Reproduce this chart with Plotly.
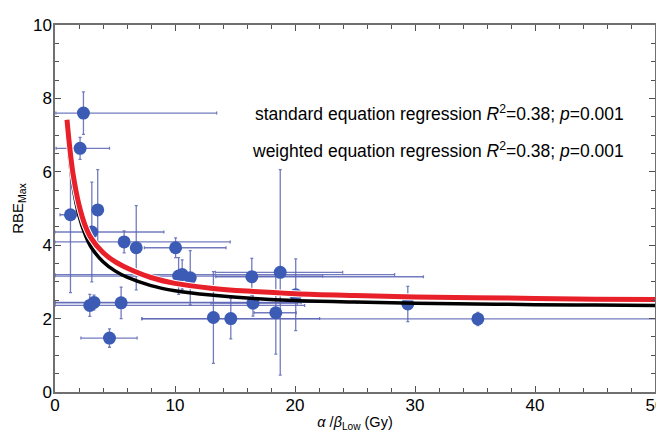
import plotly.graph_objects as go

# Data points (alpha/beta_Low, RBE_max) with error bars
ab_low = [2.37, 2.09, 1.29, 3.07, 3.56, 5.76, 6.77, 10.05, 10.3, 10.6, 11.27,
          16.4, 18.77, 2.9, 3.25, 5.51, 4.54, 13.2, 14.65, 16.5, 18.4, 20.06, 29.4, 35.24]
rbe_max = [7.6, 6.64, 4.83, 4.36, 4.96, 4.09, 3.93, 3.93, 3.16, 3.2, 3.11,
           3.14, 3.26, 2.36, 2.44, 2.43, 1.47, 2.03, 2.0, 2.42, 2.16, 2.65, 2.4, 1.99]
x_err_plus = [11.1, 2.45, 0.45, 6.0, 0.0, 8.84, 0.0, 4.2, 12.0, 17.7, 0.0,
              14.3, 5.2, 17.9, 21.9, 15.0, 2.3, 0.0, 7.4, 3.7, 1.7, 0.0, 0.0, 28.0]
x_err_minus = [2.3, 2.0, 0.87, 3.07, 0.0, 5.76, 0.0, 2.6, 10.3, 10.6, 0.0,
               3.0, 5.4, 2.9, 3.25, 5.51, 2.38, 0.0, 7.4, 3.5, 1.8, 0.0, 0.0, 28.0]
y_err = [0.58, 0.3, 2.12, 1.36, 1.1, 0.3, 1.15, 0.27, 0.5, 0.4, 0.74,
         0.5, 2.8, 0.3, 0.2, 0.43, 0.25, 1.25, 0.55, 0.35, 1.13, 0.98, 0.48, 0.18]

# Regression curves
std_x = [1.0, 1.2, 1.5, 2.0, 2.5, 3.0, 4.0, 5.0, 6.0, 8.0, 10, 13, 16, 20, 25, 30, 35, 40, 45, 50]
std_y = [7.42, 6.75, 5.95, 5.1, 4.55, 4.2, 3.8, 3.55, 3.38, 3.12, 2.96, 2.83, 2.75, 2.68,
         2.63, 2.59, 2.57, 2.55, 2.53, 2.52]
wtd_x = [1.0, 1.2, 1.5, 2.0, 2.5, 3.0, 4.0, 5.0, 6.0, 8.0, 10, 13, 16, 20, 25, 30, 35, 40, 45, 50]
wtd_y = [7.1, 6.4, 5.6, 4.8, 4.3, 3.95, 3.55, 3.3, 3.13, 2.9, 2.76, 2.64, 2.56, 2.49,
         2.45, 2.42, 2.40, 2.38, 2.37, 2.36]

x_ticks = [0, 10, 20, 30, 40, 50]
y_ticks = [0, 2, 4, 6, 8, 10]

annot_lines = [
    "standard equation regression <i>R</i><sup>2</sup>=0.38; <i>p</i>=0.001",
    "weighted equation regression <i>R</i><sup>2</sup>=0.38; <i>p</i>=0.001",
]
annot_y = [7.6, 6.6]

FONT = "Liberation Sans, Arial, sans-serif"
ERR_COLOR = "rgba(90,100,180,0.85)"

fig = go.Figure()

fig.add_trace(go.Scatter(
    x=ab_low, y=rbe_max, mode="markers",
    marker=dict(color="#3c5bb5", size=13, line=dict(width=0)),
    error_x=dict(type="data", symmetric=False, array=x_err_plus, arrayminus=x_err_minus,
                 color=ERR_COLOR, thickness=1.3, width=1.5),
    error_y=dict(type="data", array=y_err, color=ERR_COLOR, thickness=1.3, width=1.5),
    showlegend=False, cliponaxis=True,
))

fig.add_trace(go.Scatter(x=wtd_x, y=wtd_y, mode="lines", line=dict(color="black", width=3.5, shape="spline"),
                         showlegend=False))
fig.add_trace(go.Scatter(x=std_x, y=std_y, mode="lines", line=dict(color="white", width=7, shape="spline"),
                         showlegend=False))
fig.add_trace(go.Scatter(x=std_x, y=std_y, mode="lines", line=dict(color="#e8202a", width=5, shape="spline"),
                         showlegend=False))

for txt, yy in zip(annot_lines, annot_y):
    fig.add_annotation(x=47.6, y=yy, xref="x", yref="y", text=txt, showarrow=False,
                       xanchor="right", yanchor="middle",
                       font=dict(family=FONT, size=17.5, color="black"))

axis_common = dict(
    showgrid=False, zeroline=False, showline=True, linecolor="#707070", linewidth=1.5,
    mirror="ticks", ticks="inside", ticklen=6, tickwidth=1.2, tickcolor="#505050",
    tickfont=dict(family=FONT, size=17, color="black"),
)

fig.update_xaxes(range=[0, 50], tickvals=x_ticks, ticklabelstandoff=-3,
                 minor=dict(dtick=2, ticks="inside", ticklen=4, tickcolor="#505050"),
                 title=dict(text="<i>α</i> /<i>β</i><sub>Low</sub> (Gy)", standoff=3,
                            font=dict(family=FONT, size=14.5, color="black")),
                 **axis_common)
fig.update_yaxes(range=[0, 10], tickvals=y_ticks, ticklabelstandoff=-2,
                 minor=dict(dtick=0.5, ticks="inside", ticklen=4, tickcolor="#505050"),
                 title=dict(text="RBE<sub>Max</sub>", standoff=6,
                            font=dict(family=FONT, size=15, color="black")),
                 **axis_common)

fig.update_layout(
    width=664, height=434,
    margin=dict(l=47, r=10, t=8, b=50),
    plot_bgcolor="white", paper_bgcolor="white",
)

fig.write_html("out.html")
